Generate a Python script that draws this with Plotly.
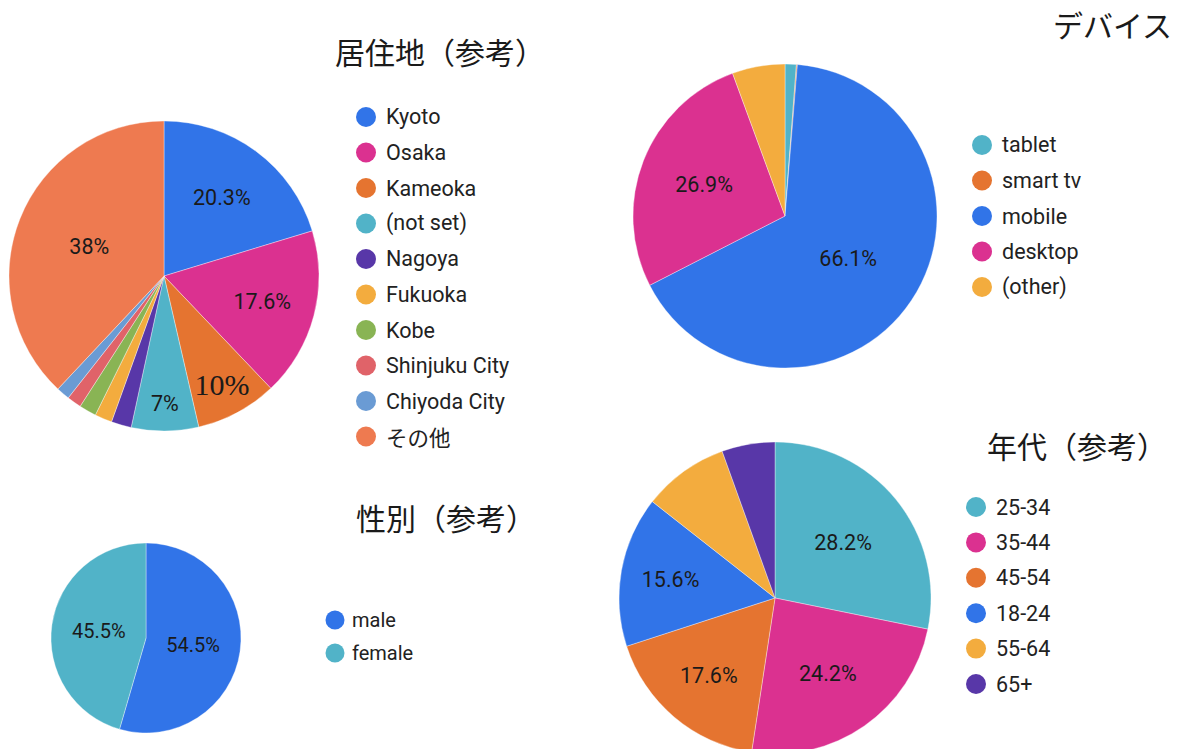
import plotly.graph_objects as go

# page body adds an 8px margin; figure coordinates are offset accordingly
OFF = 8
W, H = 1176, 752

# ---------------- data ----------------
res_labels = ["Kyoto", "Osaka", "Kameoka", "(not set)", "Nagoya", "Fukuoka",
              "Kobe", "Shinjuku City", "Chiyoda City", "その他"]
res_values = [20.3, 17.6, 8.5, 7.0, 2.1, 1.8, 1.8, 1.5, 1.4, 38.0]
res_text = ["20.3%", "17.6%", "10%", "7%", "", "", "", "", "", "38%"]
res_colors = ["#3174E8", "#DB3190", "#E57430", "#51B3C8", "#5837A8", "#F3AC3E",
              "#89B454", "#E06369", "#6A9BD4", "#EE7A50"]

dev_labels = ["tablet", "smart tv", "mobile", "desktop", "(other)"]
dev_values = [1.2, 0.1, 66.1, 26.9, 5.6]
dev_text = ["", "", "66.1%", "26.9%", ""]
dev_colors = ["#51B3C8", "#E57430", "#3174E8", "#DB3190", "#F3AC3E"]

gen_labels = ["male", "female"]
gen_values = [54.5, 45.5]
gen_text = ["54.5%", "45.5%"]
gen_colors = ["#3174E8", "#51B3C8"]

age_labels = ["25-34", "35-44", "45-54", "18-24", "55-64", "65+"]
age_values = [28.2, 24.2, 17.6, 15.6, 8.9, 5.5]
age_text = ["28.2%", "24.2%", "17.6%", "15.6%", "", ""]
age_colors = ["#51B3C8", "#DB3190", "#E57430", "#3174E8", "#F3AC3E", "#5837A8"]

# ---------------- helpers ----------------
def px_x(x):
    return (x - OFF) / W

def px_y(y):
    return 1 - (y - OFF) / H

def domain(cx, cy, r):
    return dict(x=[px_x(cx - r), px_x(cx + r)], y=[px_y(cy + r), px_y(cy - r)])

SANS = "Roboto, 'Noto Sans', Arial, sans-serif"
CJK = "'Noto Sans CJK JP', 'Noto Sans', sans-serif"

fig = go.Figure()

def add_pie(labels, values, text, colors, cx, cy, r, sizes, families=None):
    n = len(labels)
    fig.add_trace(go.Pie(
        labels=labels, values=values, text=text,
        textinfo="text", textposition="inside",
        insidetextorientation="horizontal",
        sort=False, direction="clockwise", rotation=0,
        marker=dict(colors=colors, line=dict(color="rgba(255,255,255,0.6)", width=0.6)),
        textfont=dict(color="#1a1a1a", size=sizes,
                      family=families if families else [SANS] * n),
        domain=domain(cx, cy, r),
        showlegend=False, hoverinfo="label+percent",
    ))

res_sizes = [21.5] * len(res_labels)
res_fams = [SANS] * len(res_labels)
res_sizes[2] = 30
res_fams[2] = "'Liberation Serif', 'Times New Roman', serif"

add_pie(res_labels, res_values, res_text, res_colors, 164, 276, 155, res_sizes, res_fams)
add_pie(dev_labels, dev_values, dev_text, dev_colors, 785, 216, 152, [21.5] * len(dev_labels))
add_pie(gen_labels, gen_values, gen_text, gen_colors, 146, 638, 95, [20] * len(gen_labels))
add_pie(age_labels, age_values, age_text, age_colors, 775, 598, 156, [21.5] * len(age_labels))

shapes = []
annotations = []

def add_legend(labels, colors, cx, y0, step, rad, tx, fsize):
    for i, (lab, col) in enumerate(zip(labels, colors)):
        cy = y0 + step * i
        shapes.append(dict(type="circle", xref="paper", yref="paper",
                           x0=px_x(cx - rad), x1=px_x(cx + rad),
                           y0=px_y(cy + rad), y1=px_y(cy - rad),
                           fillcolor=col, line=dict(width=0)))
        annotations.append(dict(text=lab, xref="paper", yref="paper",
                                x=px_x(tx), y=px_y(cy), xanchor="left", yanchor="middle",
                                showarrow=False,
                                font=dict(family=SANS if lab != "その他" else CJK,
                                          size=fsize, color="#222222")))

add_legend(res_labels, res_colors, 366, 117, 35.5, 10, 384, 21.5)
add_legend(dev_labels, dev_colors, 982, 145, 35.5, 10, 1000, 21.5)
add_legend(gen_labels, gen_colors, 335, 620, 33, 9.5, 350, 20)
add_legend(age_labels, age_colors, 976, 507, 35.4, 10, 994, 21.5)

def add_title(text, cx, cy):
    annotations.append(dict(text=text, xref="paper", yref="paper",
                            x=px_x(cx), y=px_y(cy), xanchor="center", yanchor="middle",
                            showarrow=False,
                            font=dict(family=CJK, size=30, color="#1a1a1a")))

add_title("居住地（参考）", 440, 51)
add_title("デバイス", 1112, 24)
add_title("性別（参考）", 446, 517)
add_title("年代（参考）", 1077, 445)

fig.update_layout(
    width=W, height=H,
    margin=dict(l=0, r=0, t=0, b=0, pad=0),
    paper_bgcolor="white", plot_bgcolor="white",
    shapes=shapes, annotations=annotations,
)

fig.write_html("out.html")
